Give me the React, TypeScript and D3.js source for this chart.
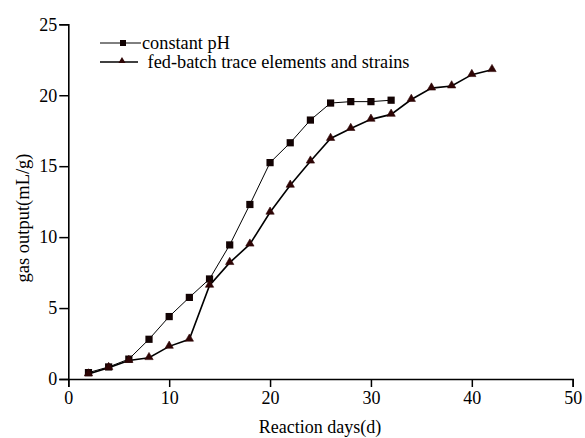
import React, { useEffect, useRef } from 'react';
import * as d3 from 'd3';

// reaction days
const daysPH = [2, 4, 6, 8, 10, 12, 14, 16, 18, 20, 22, 24, 26, 28, 30, 32];
const gasPH = [0.45, 0.85, 1.4, 2.8, 4.4, 5.75, 7.05, 9.45, 12.3, 15.25, 16.65, 18.25, 19.45, 19.55, 19.55, 19.65];

const daysFed = [2, 4, 6, 8, 10, 12, 14, 16, 18, 20, 22, 24, 26, 28, 30, 32, 34, 36, 38, 40, 42];
const gasFed = [0.35, 0.8, 1.3, 1.5, 2.3, 2.8, 6.6, 8.2, 9.5, 11.75, 13.65, 15.35, 16.95, 17.65, 18.3, 18.65, 19.7, 20.5, 20.65, 21.45, 21.8];

const xTicks = [0, 10, 20, 30, 40, 50];
const yTicks = [0, 5, 10, 15, 20, 25];

const seriesNames = ['constant pH', ' fed-batch trace elements and strains'];

const App = () => {
    const svgRef = useRef(null);

    useEffect(() => {
        if (!svgRef.current) return;
        const svg = d3.select(svgRef.current);
        svg.selectAll('*').remove();

        const font = '"Liberation Serif", "Times New Roman", serif';
        const x = d3.scaleLinear().domain([0, 50]).range([68.3, 572.7]);
        const y = d3.scaleLinear().domain([0, 25]).range([379, 24.3]);

        // axes
        const xAxis = svg.append('g').attr('transform', 'translate(0,379)');
        xAxis.call(d3.axisBottom(x).tickValues(d3.range(5, 50, 10)).tickSize(4).tickFormat(() => ''));
        xAxis.call(d3.axisBottom(x).tickValues(xTicks).tickSize(8).tickPadding(4).tickFormat(d3.format('d')));
        xAxis.selectAll('.domain').attr('stroke-width', 1.6);
        xAxis.selectAll('line').attr('stroke-width', 1.5);

        const yAxis = svg.append('g').attr('transform', 'translate(68.3,0)');
        yAxis.call(d3.axisLeft(y).tickValues(d3.range(2.5, 25, 5)).tickSize(4).tickFormat(() => ''));
        yAxis.call(d3.axisLeft(y).tickValues(yTicks).tickSize(9).tickPadding(2).tickFormat(d3.format('d')));
        yAxis.selectAll('.domain').attr('stroke-width', 1.6);
        yAxis.selectAll('line').attr('stroke-width', 1.5);

        svg.selectAll('.tick text')
            .attr('font-family', font)
            .attr('font-size', 18)
            .attr('fill', '#000');

        svg.append('text')
            .attr('x', 320)
            .attr('y', 433)
            .attr('text-anchor', 'middle')
            .attr('font-family', font)
            .attr('font-size', 18)
            .text('Reaction days(d)');

        svg.append('text')
            .attr('transform', 'translate(29,218) rotate(-90)')
            .attr('text-anchor', 'middle')
            .attr('font-family', font)
            .attr('font-size', 18.5)
            .text('gas output(mL/g)');

        const line = d3.line<[number, number]>().x(d => x(d[0])).y(d => y(d[1]));
        const ph = daysPH.map((d, i) => [d, gasPH[i]] as [number, number]);
        const fed = daysFed.map((d, i) => [d, gasFed[i]] as [number, number]);

        svg.append('path').attr('d', line(ph)).attr('fill', 'none').attr('stroke', '#000').attr('stroke-width', 1);
        svg.append('path').attr('d', line(fed)).attr('fill', 'none').attr('stroke', '#000').attr('stroke-width', 1.6);

        const sq = d3.symbol(d3.symbolSquare, 52);
        const tri = d3.symbol(d3.symbolTriangle, 30);

        svg.selectAll('.sq').data(ph).enter().append('path')
            .attr('class', 'sq')
            .attr('d', sq)
            .attr('transform', d => `translate(${x(d[0])},${y(d[1])})`)
            .attr('fill', '#120303');

        svg.selectAll('.tri').data(fed).enter().append('path')
            .attr('class', 'tri')
            .attr('d', tri)
            .attr('transform', d => `translate(${x(d[0])},${y(d[1]) - 0.5})`)
            .attr('fill', '#2e0505')
            .attr('stroke', '#2e0505')
            .attr('stroke-width', 0.6);

        // legend
        const leg = svg.append('g');
        leg.append('line').attr('x1', 100).attr('x2', 141).attr('y1', 43).attr('y2', 43).attr('stroke', '#000').attr('stroke-width', 1);
        leg.append('path').attr('d', d3.symbol(d3.symbolSquare, 36)).attr('transform', 'translate(123,43)').attr('fill', '#120303');
        leg.append('text').attr('x', 142).attr('y', 49).attr('font-family', font).attr('font-size', 18.3).text(seriesNames[0]);

        leg.append('line').attr('x1', 100).attr('x2', 138).attr('y1', 62).attr('y2', 62).attr('stroke', '#000').attr('stroke-width', 1.6);
        leg.append('path').attr('d', d3.symbol(d3.symbolTriangle, 22)).attr('transform', 'translate(122,61)').attr('fill', '#2e0505');
        leg.append('text').attr('x', 143).attr('y', 68).attr('font-family', font).attr('font-size', 18.3)
            .attr('xml:space', 'preserve').style('white-space', 'pre').text(seriesNames[1]);
    }, []);

    return (
        <svg ref={svgRef} width={585} height={438}
            style={{ position: 'absolute', left: 0, top: 0, background: '#fff' }}></svg>
    );
};

export default App;
